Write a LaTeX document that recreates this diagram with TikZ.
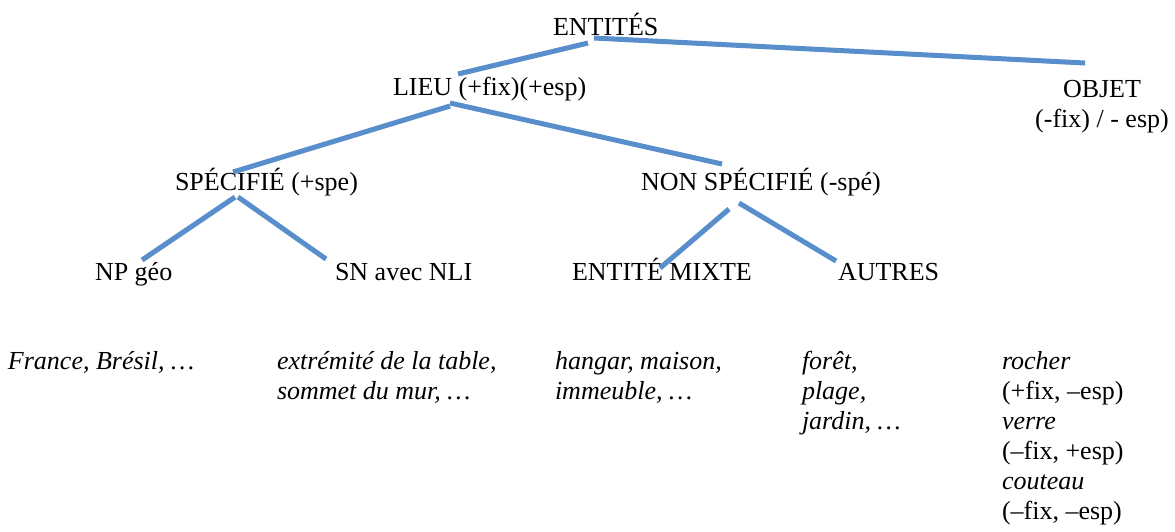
\documentclass[tikz,border=0pt]{standalone}
\usepackage{fontspec}
\setmainfont{Liberation Serif}
\definecolor{linkblue}{RGB}{88,142,203}
\begin{document}
\begin{tikzpicture}[x=1pt,y=-1pt,
  lbl/.style={anchor=base west, inner sep=0pt, outer sep=0pt, font=\fontsize{26}{30}\selectfont},
  conn/.style={line width=5pt, draw=linkblue,
    preaction={draw=black, opacity=0.18, transform canvas={shift={(1.5pt,-2pt)}}}}]
\useasboundingbox (0,0) rectangle (1175,531);

% tree labels
\node[lbl] (entites) at (553,35) {ENTITÉS};
\node[lbl] (lieu) at (393,95) {LIEU (+fix)(+esp)};
\node[lbl,anchor=base] (objet) at (1102,97) {\begin{tabular}[t]{@{}c@{}}OBJET\\(-fix) / - esp)\end{tabular}};
\node[lbl] (spec) at (175,190) {SPÉCIFIÉ (+spe)};
\node[lbl] (nonspec) at (641,190) {NON SPÉCIFIÉ (-spé)};
\node[lbl] (npgeo) at (95,280) {NP géo};
\node[lbl] (snnli) at (335,280) {SN avec NLI};
\node[lbl] (mixte) at (572,280) {ENTITÉ MIXTE};
\node[lbl] (autres) at (838,280) {AUTRES};

% examples
\node[lbl] (ex1) at (8,369) {\itshape France, Brésil, …};
\node[lbl] (ex2) at (277,369) {\itshape\begin{tabular}[t]{@{}l@{}}extrémité de la table,\\sommet du mur, …\end{tabular}};
\node[lbl] (ex3) at (555,369) {\itshape\begin{tabular}[t]{@{}l@{}}hangar, maison,\\immeuble, …\end{tabular}};
\node[lbl] (ex4) at (802,369) {\itshape\begin{tabular}[t]{@{}l@{}}forêt,\\plage,\\jardin, …\end{tabular}};
\node[lbl] (ex5) at (1002,369) {\begin{tabular}[t]{@{}l@{}}\textit{rocher}\\(+fix, –esp)\\\textit{verre}\\(–fix, +esp)\\\textit{couteau}\\(–fix, –esp)\end{tabular}};

% connector end points
\coordinate (eA) at (588,43);
\coordinate (eB) at (594,38);
\coordinate (lTop) at (458,74);
\coordinate (oTop) at (1085,63);
\coordinate (lA) at (450,106);
\coordinate (lB) at (450,103);
\coordinate (sTop) at (233,172);
\coordinate (nTop) at (722,164);
\coordinate (sA) at (235,197);
\coordinate (sB) at (238,197);
\coordinate (npTop) at (142,260);
\coordinate (snTop) at (326,259);
\coordinate (nA) at (729,209);
\coordinate (nB) at (739,203);
\coordinate (mxTop) at (660,268);
\coordinate (auTop) at (836,261);

\draw[conn] (eA) -- (lTop);
\draw[conn] (eB) -- (oTop);
\draw[conn] (lA) -- (sTop);
\draw[conn] (lB) -- (nTop);
\draw[conn] (sA) -- (npTop);
\draw[conn] (sB) -- (snTop);
\draw[conn] (nA) -- (mxTop);
\draw[conn] (nB) -- (auTop);
\end{tikzpicture}
\end{document}
